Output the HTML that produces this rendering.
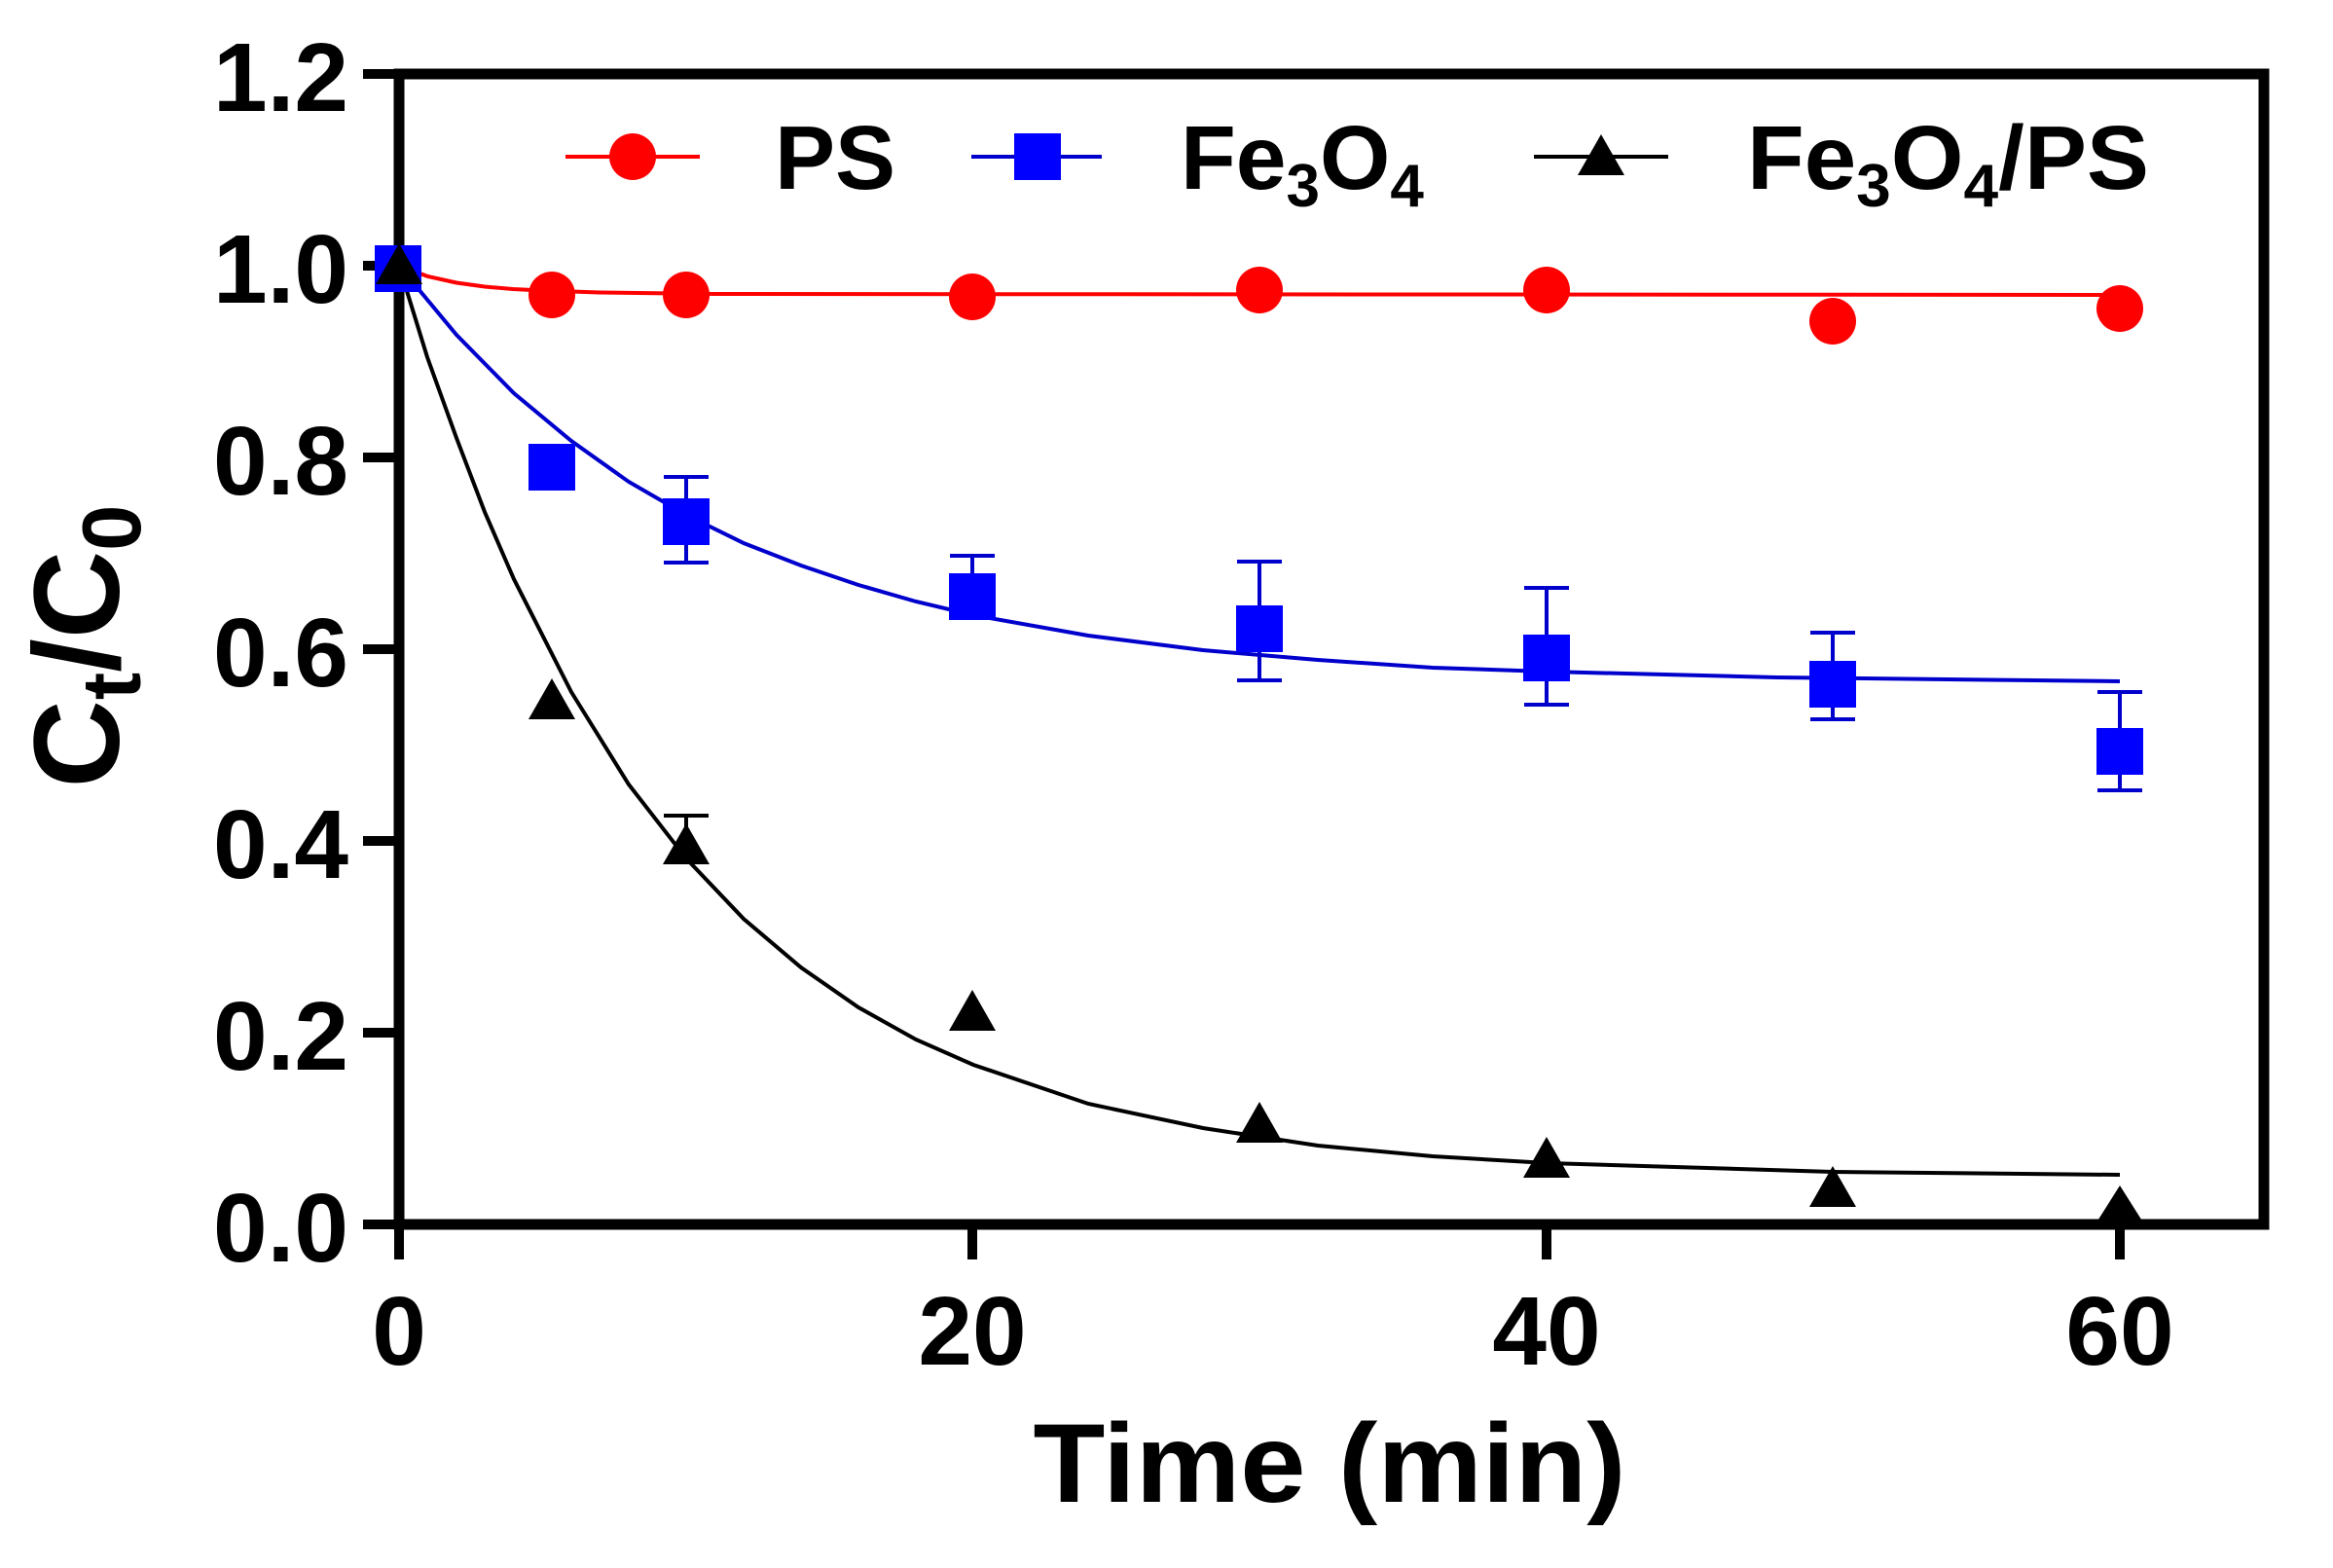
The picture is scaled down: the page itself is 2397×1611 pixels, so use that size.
<!DOCTYPE html>
<html><head><meta charset="utf-8"><style>html,body{margin:0;padding:0;background:#fff}svg{display:block}</style></head>
<body>
<svg width="2397" height="1611" viewBox="0 0 2397 1611" xmlns="http://www.w3.org/2000/svg" font-family="'Liberation Sans', Arial, sans-serif" font-weight="bold">
<rect width="2397" height="1611" fill="#fff"/>
<rect x="410" y="76" width="1916" height="1182" fill="none" stroke="#000" stroke-width="11"/>
<g stroke="#000" stroke-width="10">
<line x1="373" y1="76" x2="410" y2="76"/>
<line x1="373" y1="273" x2="410" y2="273"/>
<line x1="373" y1="470" x2="410" y2="470"/>
<line x1="373" y1="667" x2="410" y2="667"/>
<line x1="373" y1="864" x2="410" y2="864"/>
<line x1="373" y1="1061" x2="410" y2="1061"/>
<line x1="373" y1="1258" x2="410" y2="1258"/>
<line x1="410" y1="1258" x2="410" y2="1294"/>
<line x1="999" y1="1258" x2="999" y2="1294"/>
<line x1="1589" y1="1258" x2="1589" y2="1294"/>
<line x1="2178" y1="1258" x2="2178" y2="1294"/>
</g>
<g font-size="100" text-anchor="end" fill="#000">
<text x="358" y="114">1.2</text>
<text x="358" y="311">1.0</text>
<text x="358" y="508">0.8</text>
<text x="358" y="705">0.6</text>
<text x="358" y="902">0.4</text>
<text x="358" y="1099">0.2</text>
<text x="358" y="1296">0.0</text>
</g>
<g font-size="100" text-anchor="middle" fill="#000">
<text x="410" y="1402">0</text>
<text x="999" y="1402">20</text>
<text x="1589" y="1402">40</text>
<text x="2178" y="1402">60</text>
</g>
<text x="1366" y="1543" font-size="115" text-anchor="middle" textLength="609" lengthAdjust="spacingAndGlyphs">Time (min)</text>
<text transform="translate(122,664) rotate(-90)" font-size="125" text-anchor="middle">C<tspan font-size="85" dy="22">t</tspan><tspan dy="-22">/C</tspan><tspan font-size="85" dy="22">0</tspan></text>
<g fill="none" stroke-width="4">
<path stroke="#ff0000" d="M410,273 L439,283.8 L469,290.5 L498,294.5 L527,297 L557,298.5 L616,300.5 L734,302 L2178,303"/>
<path stroke="#0000cc" d="M410,273 L469,344 L528,404 L587,453 L646,495 L705,529 L764,558 L823,581 L882,601 L941,618 L1000,632 L1118,653 L1236,668 L1354,678 L1472,686 L1590,690 L1826,696 L2178,700"/>
<path stroke="#000" d="M410,273 L439,367 L469,450 L498,526 L528,595 L587,711 L646,806 L705,882 L764,944 L823,994 L882,1035 L941,1068 L1000,1094 L1118,1134 L1236,1159 L1354,1177 L1472,1188 L1590,1195 L1883,1204 L2178,1207"/>
</g>
<g stroke="#0000cc" stroke-width="4" fill="none">
<path d="M705,490 V578 M682,490 H728 M682,578 H728"/>
<path d="M999,571 V627 M976,571 H1022 M976,627 H1022"/>
<path d="M1294,577 V699 M1271,577 H1317 M1271,699 H1317"/>
<path d="M1589,604 V724 M1566,604 H1612 M1566,724 H1612"/>
<path d="M1883,650 V739 M1860,650 H1906 M1860,739 H1906"/>
<path d="M2178,711 V812 M2155,711 H2201 M2155,812 H2201"/>
</g>
<path stroke="#000" stroke-width="4" d="M705,838 V870 M682,838 H728"/>
<g fill="#ff0000">
<ellipse cx="567" cy="303" rx="24" ry="24"/>
<ellipse cx="705" cy="303" rx="24" ry="24"/>
<ellipse cx="999" cy="305" rx="24" ry="24"/>
<ellipse cx="1294" cy="298" rx="24" ry="24"/>
<ellipse cx="1589" cy="298" rx="24" ry="24"/>
<ellipse cx="1883" cy="330" rx="24" ry="24"/>
<ellipse cx="2178" cy="317" rx="24" ry="24"/>
</g>
<g fill="#0000ff">
<rect x="385" y="252" width="48" height="48"/>
<rect x="543" y="456" width="48" height="48"/>
<rect x="681" y="512" width="48" height="48"/>
<rect x="975" y="589" width="48" height="48"/>
<rect x="1270" y="622" width="48" height="48"/>
<rect x="1565" y="652" width="48" height="48"/>
<rect x="1859" y="679" width="48" height="48"/>
<rect x="2154" y="748" width="48" height="48"/>
</g>
<g fill="#000">
<path d="M410,250 L434,292 L386,292Z"/>
<path d="M567,697 L591,739 L543,739Z"/>
<path d="M705,846 L729,888 L681,888Z"/>
<path d="M999,1017 L1023,1059 L975,1059Z"/>
<path d="M1294,1132 L1318,1174 L1270,1174Z"/>
<path d="M1589,1168 L1613,1210 L1565,1210Z"/>
<path d="M1883,1198 L1907,1240 L1859,1240Z"/>
<path d="M2178,1218 L2202,1256 L2154,1256Z"/>
</g>
<line x1="581" y1="161" x2="719" y2="161" stroke="#ff0000" stroke-width="4"/>
<ellipse cx="650" cy="161" rx="24" ry="24" fill="#ff0000"/>
<text x="796" y="194" font-size="93">PS</text>
<line x1="998" y1="161" x2="1132" y2="161" stroke="#0000cc" stroke-width="4"/>
<rect x="1042" y="137" width="48" height="48" fill="#0000ff"/>
<text x="1213" y="194" font-size="93">Fe<tspan font-size="62" dy="18">3</tspan><tspan dy="-18">O</tspan><tspan font-size="62" dy="18">4</tspan></text>
<line x1="1576" y1="161" x2="1714" y2="161" stroke="#000" stroke-width="4"/>
<path d="M1645,138 L1669,180 L1621,180Z" fill="#000"/>
<text x="1795" y="194" font-size="93" textLength="413" lengthAdjust="spacingAndGlyphs">Fe<tspan font-size="62" dy="18">3</tspan><tspan dy="-18">O</tspan><tspan font-size="62" dy="18">4</tspan><tspan dy="-18">/PS</tspan></text>
</svg>
</body></html>
